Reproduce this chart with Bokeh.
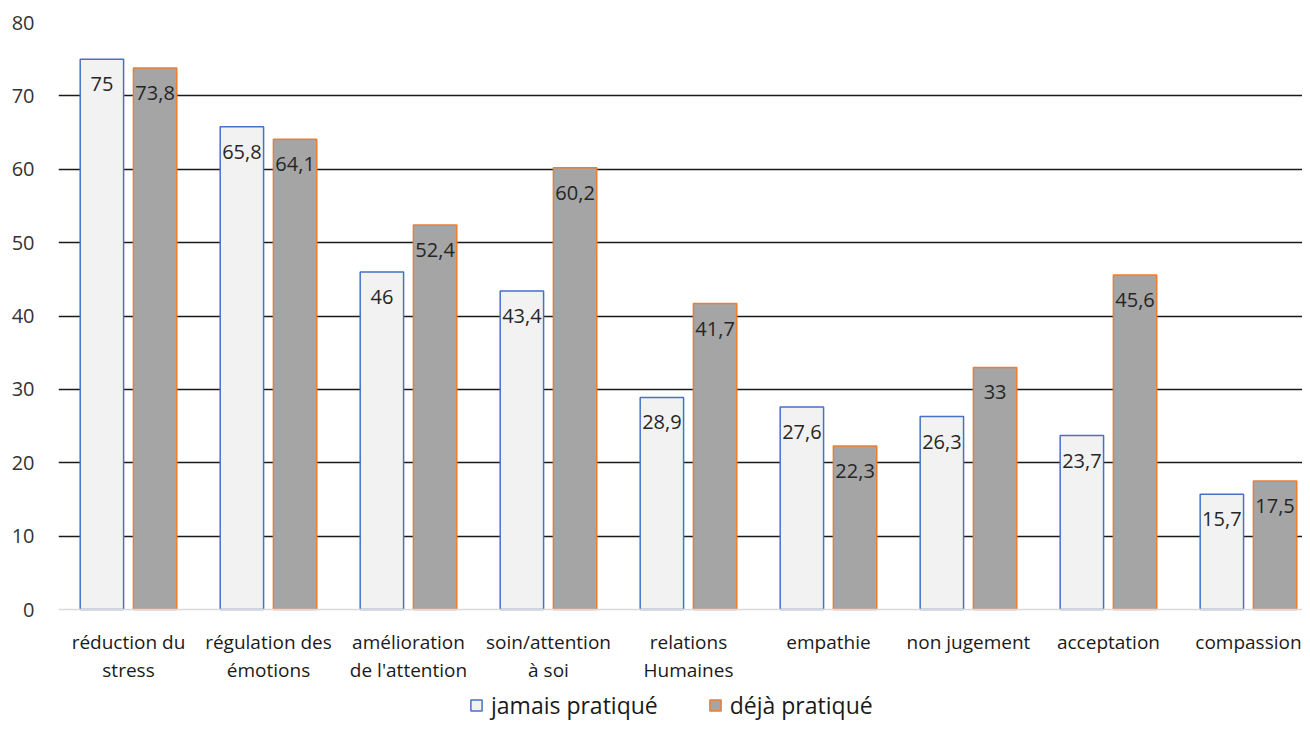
from bokeh.plotting import figure
from bokeh.models import ColumnDataSource, FixedTicker, Span, Legend, LegendItem, Range1d
from bokeh.transform import dodge
from bokeh.core.properties import value
from bokeh.embed import file_html
from bokeh.resources import INLINE

# ---- data ----
categories = ["réduction du stress", "régulation des émotions", "amélioration de l'attention",
              "soin/attention à soi", "relations Humaines", "empathie", "non jugement",
              "acceptation", "compassion"]
label_line1 = ["réduction du", "régulation des", "amélioration", "soin/attention", "relations",
               "empathie", "non jugement", "acceptation", "compassion"]
label_line2 = ["stress", "émotions", "de l'attention", "à soi", "Humaines", "", "", "", ""]
jamais = [75, 65.8, 46, 43.4, 28.9, 27.6, 26.3, 23.7, 15.7]
deja = [73.8, 64.1, 52.4, 60.2, 41.7, 22.3, 33, 45.6, 17.5]
series_names = ["jamais pratiqué", "déjà pratiqué"]
y_ticks = [0, 10, 20, 30, 40, 50, 60, 70, 80]

FONT = "Open Sans"
LABEL_DROP = 3.41  # data-label offset below bar top (data units)


def fmt(v):
    s = ("%g" % v)
    return s.replace(".", ",")


xs = list(range(len(categories)))
src = ColumnDataSource(dict(
    x=xs,
    jamais=jamais,
    deja=deja,
    jamais_lab=[fmt(v) for v in jamais],
    deja_lab=[fmt(v) for v in deja],
    jamais_y=[v - LABEL_DROP for v in jamais],
    deja_y=[v - LABEL_DROP for v in deja],
    l1=label_line1,
    l2=label_line2,
    l1y=[-4.36] * len(categories),
    l2y=[-8.18] * len(categories),
))

p = figure(width=1302, height=721,
           x_range=Range1d(-0.5, 8.386), y_range=Range1d(-15.26, 80),
           x_axis_type=None,
           min_border_left=58, min_border_right=0, min_border_top=22, min_border_bottom=0,
           outline_line_color=None, toolbar_location=None, output_backend="svg")

# y axis
p.yaxis.ticker = FixedTicker(ticks=y_ticks)
p.yaxis.axis_line_color = None
p.yaxis.major_tick_line_color = None
p.yaxis.major_tick_out = 0
p.yaxis.major_tick_in = 0
p.yaxis.minor_tick_line_color = None
p.yaxis.major_label_standoff = 24
p.yaxis.major_label_text_font = FONT
p.yaxis.major_label_text_font_size = "20px"
p.yaxis.major_label_text_color = "#333333"

p.ygrid.ticker = FixedTicker(ticks=y_ticks[1:])
p.ygrid.grid_line_color = "#1a1a1a"
p.ygrid.grid_line_width = 1.3

OFF = 0.19
W = 0.31
r1 = p.vbar(x=dodge("x", -OFF, range=p.x_range), top="jamais", width=W, source=src,
            fill_color="#f2f2f2", line_color="#4472c4", line_width=1.5)
r2 = p.vbar(x=dodge("x", OFF, range=p.x_range), top="deja", width=W, source=src,
            fill_color="#a5a5a5", line_color="#ed7d31", line_width=1.5)

p.add_layout(Span(location=0, dimension="width", line_color="#d9d9d9", line_width=1.5))

# data labels
for col, ycol, off in (("jamais_lab", "jamais_y", -OFF), ("deja_lab", "deja_y", OFF)):
    p.text(x=dodge("x", off, range=p.x_range), y=ycol, text=col, source=src,
           text_font=value(FONT), text_font_size="20px", text_color="#262626",
           text_align="center", text_baseline="middle")

# category labels
for tcol, ycol in (("l1", "l1y"), ("l2", "l2y")):
    p.text(x="x", y=ycol, text=tcol, source=src,
           text_font=value(FONT), text_font_size="19px", text_color="#1a1a1a",
           text_align="center", text_baseline="middle")

legend = Legend(items=[LegendItem(label=series_names[0], renderers=[r1]),
                       LegendItem(label=series_names[1], renderers=[r2])],
                orientation="horizontal", location=(411, 0),
                border_line_color=None, background_fill_alpha=0,
                padding=0, margin=0, spacing=50,
                glyph_width=14, glyph_height=14, label_standoff=8,
                label_text_font=FONT, label_text_font_size="23px",
                label_text_color="#1a1a1a")
p.add_layout(legend)

open("out.html", "w").write(file_html(p, INLINE))
